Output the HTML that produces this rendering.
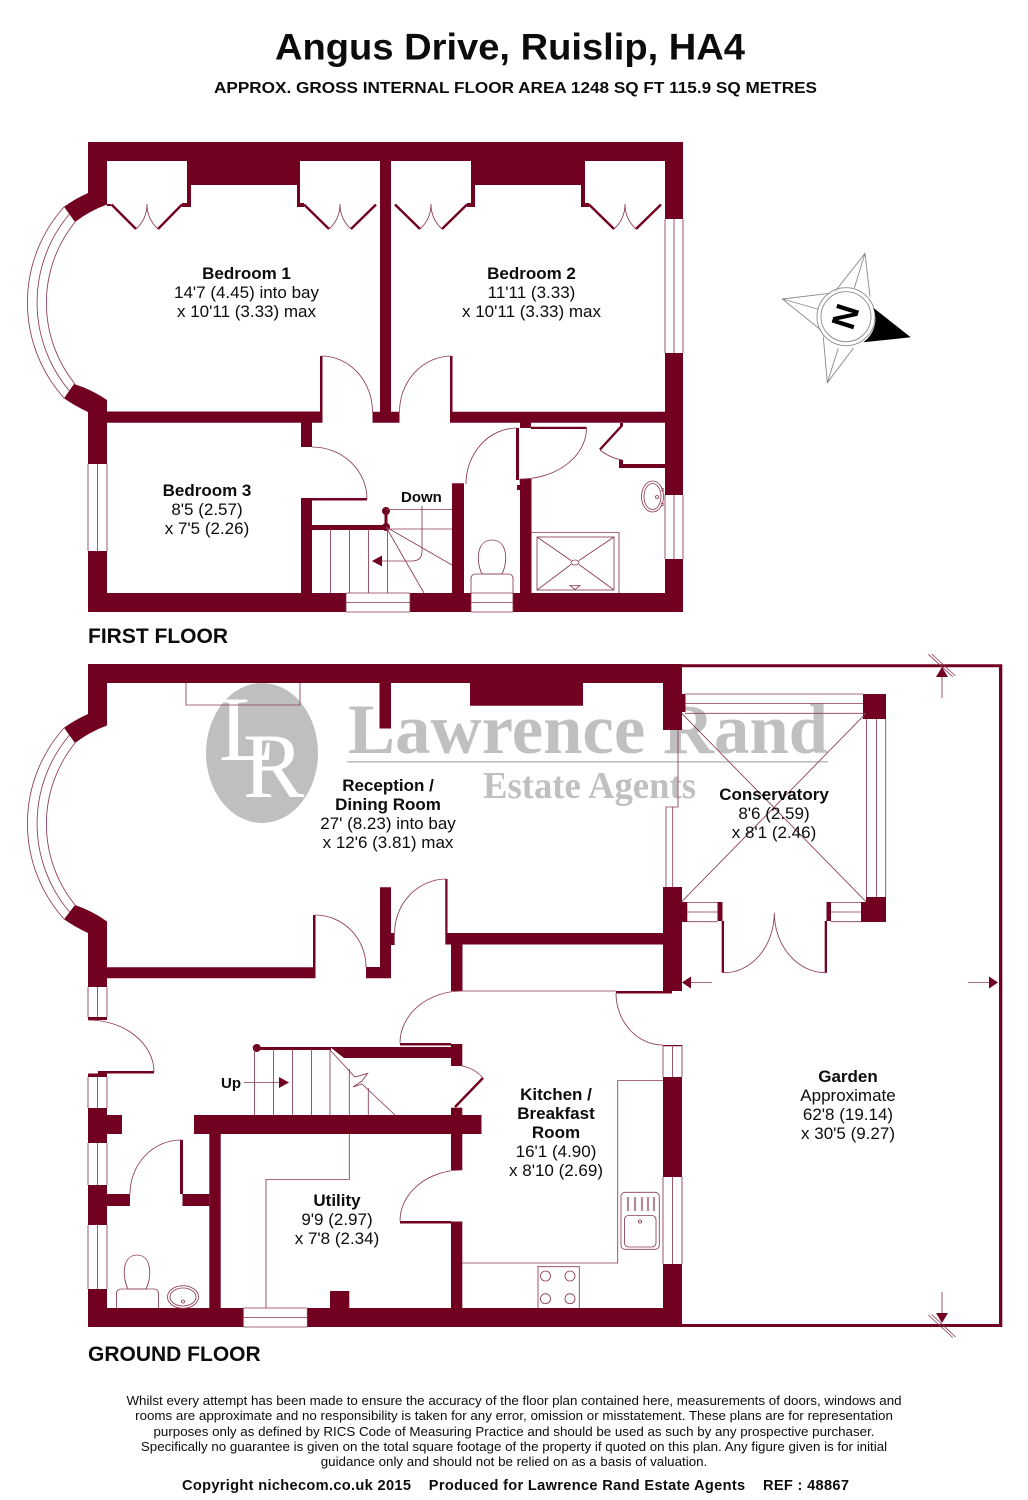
<!DOCTYPE html>
<html><head><meta charset="utf-8"><title>Angus Drive, Ruislip, HA4</title>
<style>
html,body{margin:0;padding:0;background:#fff}
svg{display:block}
text{font-family:"Liberation Sans",sans-serif;fill:#0c0c0c}
.b{font-weight:bold}
.m{text-anchor:middle;font-size:17px}
.d{text-anchor:middle;font-size:13.35px}
.w{fill:#720020;stroke:none}
.l{fill:none;stroke:#8c3a55;stroke-width:.85}
.t{fill:none;stroke:#720020;stroke-width:2.4}
.wm{font-family:"Liberation Serif",serif;font-weight:bold;fill:#c0c0c0}
</style></head><body>
<svg width="1028" height="1500" viewBox="0 0 1028 1500" xmlns="http://www.w3.org/2000/svg">
<rect width="1028" height="1500" fill="#fff"/>

<text class="b" x="510" y="59.5" text-anchor="middle" font-size="37" textLength="470" lengthAdjust="spacingAndGlyphs">Angus Drive, Ruislip, HA4</text>
<text class="b" x="515.5" y="93" text-anchor="middle" font-size="16" textLength="603" lengthAdjust="spacingAndGlyphs">APPROX. GROSS INTERNAL FLOOR AREA 1248 SQ FT 115.9 SQ METRES</text>

<!-- watermark -->
<ellipse cx="262" cy="753" rx="56" ry="70" fill="#bfbfbf"/>
<text x="219" y="760" font-size="92" style="font-family:'Liberation Serif',serif;fill:#fff">L</text>
<text x="243" y="797" font-size="92" style="font-family:'Liberation Serif',serif;fill:#fff">R</text>
<text class="wm" x="348" y="753" font-size="71" textLength="480" lengthAdjust="spacingAndGlyphs">Lawrence Rand</text>
<rect x="347" y="761" width="481" height="1.6" fill="#c0c0c0"/>
<text class="wm" x="483" y="798" font-size="38" textLength="213" lengthAdjust="spacingAndGlyphs">Estate Agents</text>

<!-- FIRST FLOOR walls -->
<g class="w">
<path d="M88,142H683V219H665V161H585V185H471V161H391V412H380V161H300V185H187V161H107V204.5A120,120 0 0 0 75,222L64,206.7A143,143 0 0 1 88,193Z"/>
<path d="M187,161h4v46h-4zM187,203h-5v4h5zM297,184h3v23h-3zM300,203h4v4h-4zM467,203h8v4h-8zM471,161h4v46h-4zM581,184h4v23h-4zM585,203h4v4h-4zM107,204h4v2h-4z"/>
<path d="M107,400A120,120 0 0 0 74,384L64,398.3A143,143 0 0 0 88,412V464H107Z"/>
<path d="M88,551h19v42H346v19H88zM410,593h61v19h-61zM513,593H665V559H683V612H513z"/>
<path d="M665,353h18v142h-18z"/>
<path d="M107,411.5H320V356h2.5V411.5V422.8H312V447H301V422.8H107zM301,500h11v93h-11zM301,498h66v2.5h-66z"/>
<path d="M372.5,411.7H399.5V422.8H372.5zM450,356h2.5V411.7H665V422.8H531V428H520V422.8H450z"/>
<path d="M531,426.7h55.5v2.3H531z"/>
<path d="M516,428h3v52h-3zM519.5,479H531.5V593H520V490h-3v-5h3z"/>
<path d="M452,483.3H464V593H452z"/>
<path d="M312,525h74v5h-74z"/>
<circle cx="386" cy="511" r="4"/><rect x="384.5" y="512" width="3" height="14"/><circle cx="386" cy="527" r="4"/>
<path d="M619,464H665V468H619zM619,460h4v6h-4zM620,423h3v3h-3z"/>
<path d="M622,425.5L600,449.5" style="stroke:#720020;stroke-width:2.4;fill:none"/>
<!-- GROUND FLOOR walls -->
<path d="M88,664H682V730H663V683H583V705.7H470V683H391V728.5H379.5V683H107V725.5A120,120 0 0 0 75,743L64,727.7A143,143 0 0 1 88,714Z"/>
<path d="M107,921.5A120,120 0 0 0 75,905L64,919.3A143,143 0 0 0 88,933V987H107Z"/>
<path d="M107,967.3H313V915h2.5V967.3V978.3H107z"/>
<path d="M366,967H380V887.3H391V933H394.6V945H391V978.3H366z"/>
<path d="M445.3,879h2.2V933H663V887H682V991H672v2.5H616V991H663V944.5H462.5V991H451V944.5H445.3z"/>
<path d="M400,1043h51v2.5h-51zM451,1044h11.3v22H451zM330,1047H451V1058H344Z"/>
<rect x="256" y="1047" width="75" height="3"/>
<circle cx="256.7" cy="1048" r="4"/>
<path d="M194,1115H481.5V1134H462.3V1170H451V1134H220.7V1308H330V1291H349.3V1308H451V1223.5H400V1221H451V1221.5H462.3V1308H663V1264H682V1327H307.3V1308H209.3V1134H194z"/>
<path d="M451,1107.7h11.3v8H451z"/>
<path d="M88,1289h19v19H243.3v19H88z"/>
<path d="M663,1077h19v100h-19z"/>
<path d="M88,1017h19v3H88zM88,1073.5H98V1071H154v2.5H107V1077H88z"/>
<path d="M88,1108h19v7h15v19h-15v9H88z"/>
<path d="M88,1185h19v9h23v12H107v19H88z"/>
<path d="M180,1140h3v54h-3zM182.5,1194H209.3v12H182.5z"/>
<path d="M663,1045h19v1.2h-19z"/>
<path d="M682,694h3.5v18H682z"/>
<path d="M863,694h23v25h-23zM866,897h20v25h-25v-20h5z"/>
<path d="M682,902h5.3v20H682z"/>
<path d="M717.5,902H722.5V921H724V972.7H721.7V921H717.5z"/>
<path d="M826.5,902H831V921H827V972.7H824.7V921H826.5z"/>
<!-- garden -->
<path d="M682,664.3H1002.3V1327H682V1324H999V667.3H682z"/>
<path d="M942,667l6,10h-12zM942,1323l6,-10h-12zM682,982.5l9,-6v12zM998,982.5l-9,-6v12zM279,1077l10,5.5l-10,5.5z"/>
<path d="M372,561l10,-5.5v11z"/>
</g>

<!-- leaves thick -->
<path class="t" d="M136,229L111.5,204.5M158,229L182,204.5M329,229L304,204.5M351,229L376,204.5M420,229L395,204.5M442,229L467,204.5M614,229L589,204.5M636,229L661,204.5"/>
<path class="t" d="M455,1107L483,1078"/>

<!-- thin lines: first floor -->
<g class="l">
<path d="M136,229Q147,219 147,204Q147,219 158,229M329,229Q340,219 340,204Q340,219 351,229M420,229Q431,219 431,204Q431,219 442,229M614,229Q625,219 625,204Q625,219 636,229"/>
<path d="M64,207A143,143 0 0 0 64,398M69.5,214A137,137 0 0 0 69.5,391M75,222A129,129 0 0 0 75,384"/>
<path d="M665,219V353M674,219V353M683,219V353M665,495V559M674,495V559M683,495V559"/>
<path d="M88,464V551M97.5,464V551M107,464V551"/>
<path d="M346,593H410M346,602.5H410M346,612H410M471,593H513M471,602.5H513M471,612H513M346,593V612M410,593V612M471,593V612M513,593V612"/>
<path d="M322,356A51,56 0 0 1 372.5,412M451,356A52,56 0 0 0 399.5,412M312,447A55,52 0 0 1 367,499M466,484A51,56 0 0 1 517,428M586.5,428A66,51 0 0 1 520,479M600,450Q610,458 622,460"/>
<path d="M386,509.5H452M386,529H452M422,506V551Q422,561 412,561H382M330.5,529V593M349.5,529V593M368.5,529V593M387.5,529V593M386,527L452,565M386,527L424,593"/>
<path d="M471,593V579Q471,574 476,574H508Q513,574 513,579V593"/>
<path d="M482,574C476,562 476,540 492,540C508,540 508,562 502,574Z"/>
<path d="M531,532.5H619V593"/>
<rect x="537" y="537" width="77" height="53"/>
<ellipse cx="575" cy="562.5" rx="4" ry="2.5"/>
<path d="M537,537L571,560.5M614,537L579,560.5M537,590L571,564.5M614,590L579,564.5M570,585.5H580L575,589.5Z"/>
<ellipse cx="652.5" cy="496.5" rx="11" ry="15.5"/><ellipse cx="652.5" cy="496.5" rx="8.5" ry="13"/>
<path d="M661,488l3,1M661,491l3,-1M661,503l3,1M661,506l3,-1"/><circle cx="657" cy="497" r="1.5"/>
</g>

<!-- thin lines: ground floor -->
<g class="l">
<path d="M64,728A143,143 0 0 0 64,919M69.5,735A137,137 0 0 0 69.5,912M75,743A129,129 0 0 0 75,905"/>
<path d="M186,683V705H300V683"/>
<path d="M315.5,915A51,52 0 0 1 366,967M394.6,933A52,54 0 0 1 446,879"/>
<path d="M462,991H616M462,991A62,52 0 0 0 400,1043M616,993A47,52 0 0 0 663,1045M462,1066Q474,1068 483,1078M462,1170A62,51 0 0 0 400,1221"/>
<path d="M88,1020A66,52 0 0 1 154,1072M130,1194A51,54 0 0 1 181.5,1140"/>
<path d="M88,987V1017M97.5,987V1017M107,987V1017M88,1077V1108M97.5,1077V1108M107,1077V1108M88,1143V1185M97.5,1143V1185M107,1143V1185M88,1225V1289M97.5,1225V1289M107,1225V1289"/>
<path d="M243.3,1308H307.3M243.3,1317.5H307.3M243.3,1327H307.3M243.3,1308V1327M307.3,1308V1327"/>
<path d="M254.5,1049V1115M273.5,1049V1115M292.5,1049V1115M311.5,1049V1115M330,1049V1115M349.3,1069V1115M368.3,1088V1115M244,1082.5H279"/>
<path d="M330,1050L355,1077L367.7,1073.3L362,1081L353,1087L362,1084L395,1115"/>
<path d="M349.3,1134V1179.5H266V1308"/>
<path d="M116.5,1308V1294Q116.5,1289 121,1289H154Q158.5,1289 158.5,1294V1308"/>
<path d="M128,1289C122,1277 122,1255 137,1255C152,1255 152,1277 146,1289Z"/>
<ellipse cx="183" cy="1297" rx="15.5" ry="11.3"/><ellipse cx="183" cy="1297" rx="13" ry="9"/><circle cx="183" cy="1301.5" r="1.5"/>
<path d="M663,1045V1077M672.5,1045V1077M682,1045V1077M663,1177V1264M672.5,1177V1264M682,1177V1264"/>
<path d="M663,1080.5H617.7V1263H462"/>
<rect x="621" y="1192.3" width="38.3" height="57" rx="4"/>
<rect x="624.5" y="1215.5" width="31.5" height="31.5" rx="4"/>
<circle cx="640" cy="1221.5" r="1.6"/>
<path d="M628,1197v14M635,1197v14M642,1197v14M648,1197v14M654,1197v14" style="stroke-width:2.2;stroke:#b58a98"/>
<path d="M538,1308V1266.7H579.3V1308"/>
<circle cx="545.5" cy="1276" r="5"/><circle cx="570" cy="1276" r="5"/><circle cx="545.5" cy="1298.7" r="5"/><circle cx="570" cy="1298.7" r="5"/>
<!-- conservatory -->
<path d="M685,694H863M685,703.5H863M685,713.3H866M866.5,719V897M876.5,719V897M885.7,719V897"/>
<path d="M681.7,713.3L866,901.7M866,713.3L681.7,901.7"/>
<path d="M678,730V807H666V887M672.7,807V887"/>
<path d="M687,902.5H717.5M687,912H717.5M687,921.7H717.5M831,902.5H861M831,912H861M831,921.7H861"/>
<path d="M724,972.7A50,60 0 0 0 774.3,912.7A51.5,60 0 0 0 825.7,972.7"/>
<!-- garden marks -->
<path d="M928.3,654.3L952.7,676.7M931.7,654L955.5,676M942,677V698M928.3,1315L952.7,1337.5M931.7,1314.5L955.5,1337M942,1292V1313M691,982.5H712M968,982.5H989"/>
</g>

<!-- compass -->
<g fill="none" stroke="#8a8a8a" stroke-width=".9">
<path d="M835.7,290.7L865,253.3L870,296.7M854.3,288.3L865,253.3"/>
<path d="M830,293.3L782.3,299L821,330M817.7,309L782.3,299"/>
<path d="M823.3,336.7L827.3,382.7L853.3,348.3M838.3,348.3L827.3,382.7"/>
<circle cx="846" cy="316.7" r="29"/><circle cx="846" cy="316.7" r="25"/>
</g>
<path d="M873.3,307.7L910.7,337.3L863.3,342.3A29,29 0 0 0 873.3,307.7Z" fill="#000"/>
<text class="b" text-anchor="middle" font-size="33" transform="translate(846,316.7) rotate(107.6) translate(0,12)" style="fill:#000">N</text>

<!-- first-floor labels -->
<text class="m b" x="246.5" y="279">Bedroom 1</text>
<text class="m" x="246.5" y="298">14'7 (4.45) into bay</text>
<text class="m" x="246.5" y="317">x 10'11 (3.33) max</text>
<text class="m b" x="531.5" y="279">Bedroom 2</text>
<text class="m" x="531.5" y="298">11'11 (3.33)</text>
<text class="m" x="531.5" y="317">x 10'11 (3.33) max</text>
<text class="m b" x="207" y="496">Bedroom 3</text>
<text class="m" x="207" y="515">8'5 (2.57)</text>
<text class="m" x="207" y="534">x 7'5 (2.26)</text>
<text class="b" x="401" y="502" font-size="15">Down</text>
<text class="b" x="88" y="643" font-size="21">FIRST FLOOR</text>

<!-- ground-floor labels -->
<text class="m b" x="388" y="791">Reception /</text>
<text class="m b" x="388" y="810">Dining Room</text>
<text class="m" x="388" y="829">27' (8.23) into bay</text>
<text class="m" x="388" y="848">x 12'6 (3.81) max</text>
<text class="m b" x="774" y="800">Conservatory</text>
<text class="m" x="774" y="819">8'6 (2.59)</text>
<text class="m" x="774" y="838">x 8'1 (2.46)</text>
<text class="m b" x="337" y="1206">Utility</text>
<text class="m" x="337" y="1225">9'9 (2.97)</text>
<text class="m" x="337" y="1244">x 7'8 (2.34)</text>
<text class="m b" x="556" y="1100">Kitchen /</text>
<text class="m b" x="556" y="1119">Breakfast</text>
<text class="m b" x="556" y="1138">Room</text>
<text class="m" x="556" y="1157">16'1 (4.90)</text>
<text class="m" x="556" y="1176">x 8'10 (2.69)</text>
<text class="m b" x="848" y="1082">Garden</text>
<text class="m" x="848" y="1101">Approximate</text>
<text class="m" x="848" y="1120">62'8 (19.14)</text>
<text class="m" x="848" y="1139">x 30'5 (9.27)</text>
<text class="b" x="221" y="1088" font-size="15">Up</text>
<text class="b" x="88" y="1361" font-size="21">GROUND FLOOR</text>

<!-- footer -->
<text class="d" x="514" y="1405">Whilst every attempt has been made to ensure the accuracy of the floor plan contained here, measurements of doors, windows and</text>
<text class="d" x="514" y="1420">rooms are approximate and no responsibility is taken for any error, omission or misstatement. These plans are for representation</text>
<text class="d" x="514" y="1436">purposes only as defined by RICS Code of Measuring Practice and should be used as such by any prospective purchaser.</text>
<text class="d" x="514" y="1451">Specifically no guarantee is given on the total square footage of the property if quoted on this plan. Any figure given is for initial</text>
<text class="d" x="514" y="1466">guidance only and should not be relied on as a basis of valuation.</text>
<text class="b" x="182" y="1490" font-size="14.6" textLength="667" xml:space="preserve">Copyright nichecom.co.uk 2015    Produced for Lawrence Rand Estate Agents    REF : 48867</text>
</svg>
</body></html>
